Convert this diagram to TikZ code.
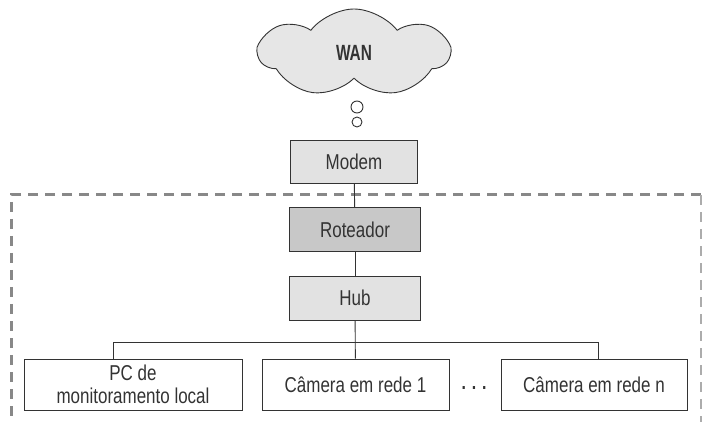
\documentclass[tikz,border=0pt]{standalone}
\usepackage{fontspec}
\setmainfont{Liberation Sans}[FakeStretch=0.79]
\newfontfamily\wanfont{Liberation Sans}[FakeStretch=0.7]
\usetikzlibrary{shapes.symbols}

\definecolor{boxgray}{HTML}{E2E2E2}
\definecolor{routergray}{HTML}{C8C8C8}
\definecolor{lanborder}{HTML}{888888}
\definecolor{inkgray}{HTML}{333333}

\begin{document}
\begin{tikzpicture}[x=1pt,y=-1pt,
    box/.style={draw=inkgray,line width=0.9pt,inner sep=0pt,minimum height=44pt,
      align=center,text=inkgray,font=\fontsize{21.5}{23}\selectfont},
    link/.style={draw=inkgray,line width=0.9pt}]
    \useasboundingbox (0,0) rectangle (702,422);
    % rede local
    \draw [lanborder,line width=3pt,dash pattern=on 10pt off 7pt]
    (701,195) -- (11,195) -- (11,440);
    \draw [lanborder!70,line width=3pt,dash pattern=on 10pt off 7pt]
    (701,195) -- (701,440);
    % nuvem
    \node (wan) [cloud,cloud puffs=7,cloud puff arc=105,aspect=2.1,draw=inkgray,
      line width=0.9pt,fill=boxgray!85,minimum width=190pt,minimum height=88pt,
      text=inkgray,font=\wanfont\fontsize{22}{24}\selectfont\bfseries] at (354,53) {WAN};
    \filldraw [draw=inkgray,fill=white,line width=0.9pt]
    (357,107) circle (6pt)
    (357,122) circle (5pt);
    % equipamentos
    \node (modem) [box,fill=boxgray,minimum width=127pt,minimum height=43pt] at (354,161.5) {Modem};
    \node (roteador) [box,fill=routergray,minimum width=131pt] at (355,229.5) {Roteador};
    \node (hub) [box,fill=boxgray,minimum width=131pt] at (355,298) {Hub};
    \node (pc) [box,minimum width=218pt,minimum height=51pt] at (133,384.5)
    {PC de\\monitoramento local};
    \node (cam1) [box,minimum width=187pt,minimum height=51pt] at (355.5,384.5) {Câmera em rede 1};
    \node (camn) [box,minimum width=186pt,minimum height=51pt] at (594,384.5) {Câmera em rede n};
    \node (dots) [anchor=base,text=inkgray,font=\fontsize{20}{22}\selectfont\bfseries] at (474,389) {. . .};
    % ligacoes
    \coordinate (b1) at (113,342);
    \coordinate (b2) at (598,342);
    \draw [link] (modem) -- (roteador);
    \draw [link] (roteador) -- (hub);
    \draw [link] (hub) -- (cam1);
    \draw [link] (b1 |- pc.north) -- (b1) -- (b2) -- (b2 |- camn.north);
  \end{tikzpicture}
\end{document}
